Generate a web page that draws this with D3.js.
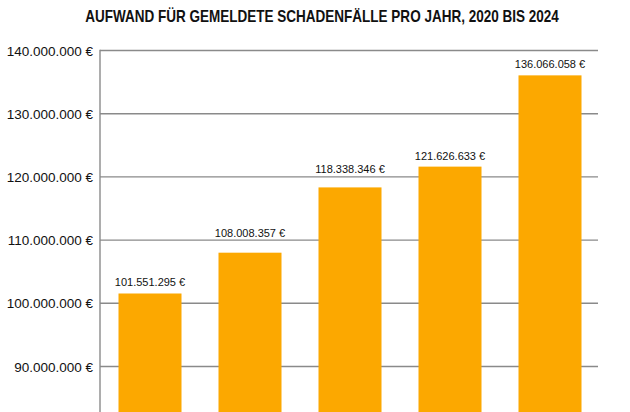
<!DOCTYPE html>
<html>
<head>
<meta charset="utf-8">
<script src="https://cdn.jsdelivr.net/npm/d3@7.9.0/dist/d3.min.js"></script>
<style>
  html, body { margin: 0; padding: 0; background: #fff; }
  svg { display: block; }
  .tick-label { font-family: "Liberation Sans", Arial, sans-serif; font-size: 13.5px; fill: #111; }
  .value-label { font-family: "Liberation Sans", Arial, sans-serif; font-size: 11px; fill: #111; }
  .title { font-family: "Liberation Sans", Arial, sans-serif; font-weight: bold; font-size: 16px; fill: #111; }
</style>
</head>
<body>
<svg id="chart" width="630" height="412"></svg>
<script>
const years = ['2020', '2021', '2022', '2023', '2024'];
const costs = [101551295, 108008357, 118338346, 121626633, 136066058];
const yTicks = [90000000, 100000000, 110000000, 120000000, 130000000, 140000000];
const title = 'AUFWAND FÜR GEMELDETE SCHADENFÄLLE PRO JAHR, 2020 BIS 2024';

const width = 630, height = 412;
const plotLeft = 100, plotRight = 598, plotTop = 50.5;
const step = 63.2; // px per 10 Mio

const svg = d3.select('#chart');

const x = d3.scaleBand()
  .domain(years)
  .range([plotLeft, plotLeft + 500])
  .paddingInner(0.37)
  .paddingOuter(0.185);

// the picture is cut off at the bottom, the axis continues below 90 Mio
const y = d3.scaleLinear()
  .domain([80000000, 140000000])
  .range([plotTop + 6 * step, plotTop]);

const fmt = v => d3.format(',')(v).replace(/,/g, '.') + ' €';

// title is a condensed bold face, squeeze it to the width of the original
const titleText = svg.append('text')
  .attr('class', 'title')
  .attr('text-anchor', 'middle')
  .text(title);
const titleW = titleText.node().getComputedTextLength();
titleText.attr('transform', `translate(322,22) scale(${474 / titleW},1)`);

// gridlines
svg.append('g')
  .selectAll('line')
  .data(yTicks)
  .enter()
  .append('line')
  .attr('x1', plotLeft)
  .attr('x2', plotRight)
  .attr('y1', d => y(d))
  .attr('y2', d => y(d))
  .attr('stroke', '#8a8a8a')
  .attr('stroke-width', 1.4);

svg.append('line')
  .attr('x1', plotLeft)
  .attr('x2', plotLeft)
  .attr('y1', y(140000000) - 0.7)
  .attr('y2', height)
  .attr('stroke', '#8a8a8a')
  .attr('stroke-width', 1.4);

svg.append('g')
  .selectAll('text')
  .data(yTicks)
  .enter()
  .append('text')
  .attr('class', 'tick-label')
  .attr('x', 93)
  .attr('y', d => y(d) + 5)
  .attr('text-anchor', 'end')
  .text(d => fmt(d));

const data = years.map((yr, i) => ({ year: yr, value: costs[i] }));

svg.append('g')
  .selectAll('rect')
  .data(data)
  .enter()
  .append('rect')
  .attr('x', d => x(d.year))
  .attr('width', x.bandwidth())
  .attr('y', d => y(d.value))
  .attr('height', d => y(80000000) - y(d.value))
  .attr('fill', '#fca800');

// labels sit just above the bar, but hop over a gridline they would cross
function labelY(v) {
  let base = y(v) - 7;
  yTicks.forEach(t => {
    const gy = y(t);
    if (gy > base - 10 && gy < base + 2) base = gy - 3.5;
  });
  return base;
}

svg.append('g')
  .selectAll('text')
  .data(data)
  .enter()
  .append('text')
  .attr('class', 'value-label')
  .attr('x', d => x(d.year) + x.bandwidth() / 2)
  .attr('y', d => labelY(d.value))
  .attr('text-anchor', 'middle')
  .text(d => fmt(d.value));
</script>
</body>
</html>
